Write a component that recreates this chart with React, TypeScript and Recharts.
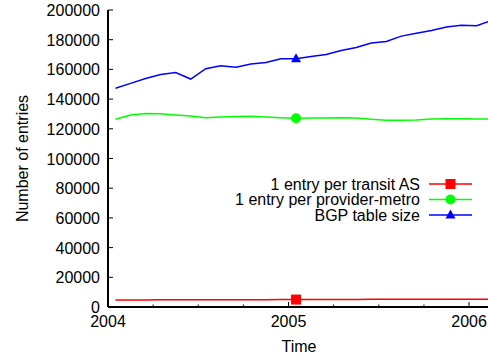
import { LineChart, Line, XAxis, YAxis, Legend } from "recharts"

const FONT = '"Liberation Sans", Arial, sans-serif'

const months = [
    "2004-01", "2004-02", "2004-03", "2004-04", "2004-05", "2004-06",
    "2004-07", "2004-08", "2004-09", "2004-10", "2004-11", "2004-12",
    "2005-01", "2005-02", "2005-03", "2005-04", "2005-05", "2005-06",
    "2005-07", "2005-08", "2005-09", "2005-10", "2005-11", "2005-12",
    "2006-01", "2006-02",
]
const transitAS = [
    4700, 4700, 4750, 4800, 4800, 4850, 4850, 4900, 4900, 4950, 4950, 5000, 5000,
    5050, 5050, 5100, 5100, 5150, 5150, 5200, 5200, 5250, 5250, 5300, 5300, 5300,
]
const providerMetro = [
    126400, 129300, 130300, 130200, 129300, 128600, 127500, 128000, 128300, 128400, 128000, 127500, 127100,
    127200, 127300, 127500, 127300, 126400, 125800, 125800, 126000, 126600, 126800, 126700, 126600, 126600,
]
const bgpTable = [
    147300, 150600, 153900, 156600, 157900, 153500, 160500, 162500, 161400, 163600, 164600, 167200, 167200,
    168700, 170000, 172700, 174700, 177800, 178800, 182400, 184300, 186200, 188600, 189700, 189400, 192900,
]
const yearTicks = [2004, 2004.25, 2004.5, 2004.75, 2005, 2005.25, 2005.5, 2005.75, 2006]
const entryTicks = [0, 20000, 40000, 60000, 80000, 100000, 120000, 140000, 160000, 180000, 200000]
const markerIndex = 12

const series = [
    { key: "transit", name: "1 entry per transit AS", color: "#ff0000", shape: "square" },
    { key: "metro", name: "1 entry per provider-metro", color: "#00ff00", shape: "circle" },
    { key: "bgp", name: "BGP table size", color: "#0000ff", shape: "triangle" },
]

const data = months.map((m, i) => {
    const [yr, mo] = m.split("-").map(Number)
    return { t: yr + (mo - 0.5) / 12, transit: transitAS[i], metro: providerMetro[i], bgp: bgpTable[i] }
})

function Marker({ shape, x, y, color }: { shape: string; x: number; y: number; color: string }) {
    if (shape === "square") return <rect x={x - 5} y={y - 5} width={10} height={10} fill={color} />
    if (shape === "circle") return <circle cx={x} cy={y} r={5} fill={color} />
    return <polygon points={`${x},${y - 5.5} ${x + 5},${y + 3.5} ${x - 5},${y + 3.5}`} fill={color} />
}

const dotFor = (shape: string, color: string) => (p: any) => {
    if (p.index !== markerIndex) return <g key={`d${p.index}`} />
    return <g key={`d${p.index}`}><Marker shape={shape} x={p.cx} y={p.cy} color={color} /></g>
}

// gnuplot style: ticks point inward, minor ticks every quarter
function BottomTick({ x, y, payload }: any) {
    const major = Number.isInteger(payload.value)
    return (
        <g>
            <line x1={x} x2={x} y1={y} y2={y - (major ? 5 : 2.5)} stroke="#000" />
            {major && (
                <text x={x} y={y + 20} textAnchor="middle" fontSize={16} fontFamily={FONT} fill="#000">
                    {payload.value}
                </text>
            )}
        </g>
    )
}

function TopTick({ x, y, payload }: any) {
    const major = Number.isInteger(payload.value)
    return <line x1={x} x2={x} y1={y} y2={y + (major ? 5 : 2.5)} stroke="#000" />
}

function LeftTick({ x, y, payload }: any) {
    return (
        <g>
            <line x1={x} x2={x + 5} y1={y} y2={y} stroke="#000" />
            <text x={x - 8} y={y + 6} textAnchor="end" fontSize={16} fontFamily={FONT} fill="#000">
                {payload.value}
            </text>
        </g>
    )
}

function RightTick({ x, y }: any) {
    return <line x1={x - 5} x2={x} y1={y} y2={y} stroke="#000" />
}

function LegendBox() {
    return (
        <svg width={488} height={358} style={{ position: "absolute", left: 0, top: 0, pointerEvents: "none" }}>
            {series.map((s, i) => {
                const y = 184 + i * 15.5
                return (
                    <g key={s.key}>
                        <text x={420} y={y + 5.5} textAnchor="end" fontSize={16} fontFamily={FONT} fill="#000">
                            {s.name}
                        </text>
                        <line x1={429} x2={472} y1={y} y2={y} stroke={s.color} strokeWidth={1.5} />
                        <Marker shape={s.shape} x={450.5} y={y} color={s.color} />
                    </g>
                )
            })}
        </svg>
    )
}

export default function App() {
    return (
        <div style={{ position: "absolute", left: 0, top: 0, width: 488, height: 358, overflow: "hidden", background: "#fff" }}>
            <LineChart width={500} height={358} data={data} margin={{ top: 10, right: 0, bottom: 0, left: 0 }}>
                <XAxis
                    dataKey="t"
                    type="number"
                    domain={[2004, 2006.116]}
                    allowDataOverflow
                    ticks={yearTicks}
                    interval={0}
                    height={51}
                    tickSize={0}
                    tickMargin={0}
                    tickLine={false}
                    tick={<BottomTick />}
                    axisLine={{ stroke: "#000", strokeWidth: 2 }}
                    label={(p: any) => {
                        const vb = p.viewBox
                        return (
                            <text x={vb.x + vb.width / 2} y={vb.y + 45} textAnchor="middle" fontSize={16} fontFamily={FONT} fill="#000">
                                Time
                            </text>
                        )
                    }}
                />
                <XAxis
                    xAxisId="top"
                    orientation="top"
                    dataKey="t"
                    type="number"
                    domain={[2004, 2006.116]}
                    allowDataOverflow
                    ticks={yearTicks}
                    interval={0}
                    height={0}
                    tickSize={0}
                    tickMargin={0}
                    tickLine={false}
                    tick={<TopTick />}
                    axisLine={{ stroke: "#000", strokeWidth: 2 }}
                />
                <YAxis
                    type="number"
                    domain={[0, 200000]}
                    ticks={entryTicks}
                    interval={0}
                    width={108}
                    tickSize={0}
                    tickMargin={0}
                    tickLine={false}
                    tick={<LeftTick />}
                    axisLine={{ stroke: "#000", strokeWidth: 2 }}
                    label={(p: any) => {
                        const vb = p.viewBox
                        const cy = vb.y + vb.height / 2
                        return (
                            <text x={22} y={cy} transform={`rotate(-90 22 ${cy})`} textAnchor="middle" dominantBaseline="central" fontSize={16} fontFamily={FONT} fill="#000">
                                Number of entries
                            </text>
                        )
                    }}
                />
                <YAxis
                    yAxisId="right"
                    orientation="right"
                    type="number"
                    domain={[0, 200000]}
                    ticks={entryTicks}
                    interval={0}
                    width={10}
                    tickSize={0}
                    tickMargin={0}
                    tickLine={false}
                    tick={<RightTick />}
                    axisLine={false}
                />
                {series.map((s) => (
                    <Line
                        key={s.key}
                        dataKey={s.key}
                        name={s.name}
                        type="linear"
                        stroke={s.color}
                        strokeWidth={1.5}
                        dot={dotFor(s.shape, s.color)}
                        activeDot={false}
                        isAnimationActive={false}
                    />
                ))}
                <Legend
                    layout="horizontal"
                    verticalAlign="middle"
                    align="center"
                    wrapperStyle={{ left: 0, top: 0, width: 488, height: 358 }}
                    content={() => <LegendBox />}
                />
            </LineChart>
        </div>
    )
}
